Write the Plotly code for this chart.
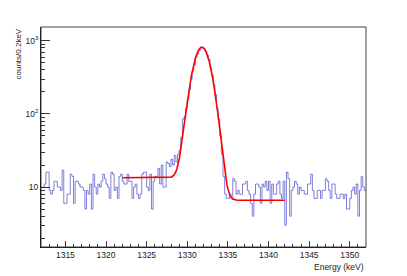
import math
import plotly.graph_objects as go

# ---- data ----
BIN_LOW = 1312.0      # keV, first bin edge
BIN_WIDTH = 0.2       # keV
COUNTS = [
    10, 10, 11, 16, 16, 9, 8, 9, 12, 12,
    10, 10, 9, 17, 6, 6, 8, 8, 15, 14,
    6, 12, 12, 11, 10, 10, 9, 5, 9, 8,
    11, 5, 15, 10, 8, 11, 10, 12, 15, 13,
    11, 10, 7, 16, 15, 9, 10, 7, 14, 15,
    12, 11, 11, 15, 12, 12, 7, 10, 11, 8,
    7, 8, 15, 16, 16, 10, 9, 15, 5, 12,
    14, 14, 18, 11, 20, 10, 10, 22, 21, 19,
    24, 20, 27, 22, 28, 32, 48, 85, 92, 120,
    160, 215, 300, 385, 470, 590, 660, 735, 810, 800,
    790, 720, 640, 560, 430, 340, 250, 185, 120, 85,
    50, 28, 14, 8, 7, 7, 8, 7, 13, 12,
    8, 9, 8, 8, 11, 11, 12, 9, 8, 6,
    4, 8, 11, 11, 10, 6, 11, 10, 12, 9,
    12, 6, 11, 8, 8, 11, 12, 8, 7, 12,
    3, 16, 13, 4, 9, 10, 12, 11, 8, 10,
    9, 9, 8, 8, 11, 11, 15, 9, 7, 7,
    9, 9, 7, 9, 9, 13, 12, 9, 7, 11,
    11, 8, 7, 7, 8, 8, 7, 8, 5, 5,
    7, 9, 10, 8, 11, 4, 9, 14, 10, 9,
]

# fit parameters (Gaussian + step background)
FIT_MU = 1331.8
FIT_SIGMA = 0.95
FIT_AMP = 810.0
FIT_BG_LEFT = 13.4
FIT_BG_RIGHT = 6.6
FIT_RANGE = (1322.0, 1342.0)
FIT_NPTS = 400

X_TICKS = [1315, 1320, 1325, 1330, 1335, 1340, 1345, 1350]
Y_TICKS = [10, 100, 1000]
Y_TICK_TEXT = ["10", "10<sup>2</sup>", "10<sup>3</sup>"]

# ---- build traces ----
edges = [BIN_LOW + BIN_WIDTH * i for i in range(len(COUNTS) + 1)]
hx = edges
hy = COUNTS + [COUNTS[-1]]


def fit_func(e):
    g = FIT_AMP * math.exp(-0.5 * ((e - FIT_MU) / FIT_SIGMA) ** 2)
    step = 0.5 * math.erfc((e - FIT_MU) / (math.sqrt(2) * FIT_SIGMA))
    return g + FIT_BG_RIGHT + (FIT_BG_LEFT - FIT_BG_RIGHT) * step


fx = [FIT_RANGE[0] + (FIT_RANGE[1] - FIT_RANGE[0]) * k / (FIT_NPTS - 1) for k in range(FIT_NPTS)]
fy = [fit_func(e) for e in fx]

fig = go.Figure()
fig.add_trace(go.Scatter(x=hx, y=hy, mode="lines", line_shape="hv",
                         line=dict(color="rgba(60,60,200,0.65)", width=1),
                         hoverinfo="skip", showlegend=False))
fig.add_trace(go.Scatter(x=fx, y=fy, mode="lines",
                         line=dict(color="rgb(255,0,0)", width=1.6),
                         hoverinfo="skip", showlegend=False))

minor_y = [m * d for d in (1, 10, 100) for m in range(2, 10)]

FONT = "Liberation Sans, Arial, Helvetica, sans-serif"

# page body has an 8px margin, so the figure is 8px smaller than the window
fig.update_layout(
    width=399, height=268,
    margin=dict(l=33, r=41, t=19, b=29),
    paper_bgcolor="white", plot_bgcolor="white",
    font=dict(family=FONT, size=8.5, color="#222"),
    xaxis=dict(
        range=[1312, 1352], showgrid=False, zeroline=False,
        showline=True, linecolor="black", linewidth=1,
        ticks="inside", ticklen=6, tickcolor="#333", tickwidth=1,
        tickvals=X_TICKS, ticktext=[str(v) for v in X_TICKS],
        tickfont=dict(size=8.5, color="#222", family=FONT),
        minor=dict(ticks="inside", ticklen=3, dtick=1, tick0=1312, tickcolor="#333"),
    ),
    yaxis=dict(
        type="log", range=[0.18, 3.19], showgrid=False, zeroline=False,
        showline=True, linecolor="black", linewidth=1,
        ticks="inside", ticklen=9, tickcolor="#333", tickwidth=1,
        tickvals=Y_TICKS, ticktext=Y_TICK_TEXT,
        tickfont=dict(size=8.5, color="#222", family=FONT),
        minor=dict(ticks="inside", ticklen=4, tickmode="array", tickvals=minor_y, tickcolor="#333"),
    ),
    shapes=[dict(type="rect", xref="paper", yref="paper", x0=0, y0=0, x1=1, y1=1,
                 line=dict(color="#444", width=1), fillcolor="rgba(0,0,0,0)", layer="above")],
    annotations=[
        dict(text="Energy (keV)", xref="paper", yref="paper", x=1, y=0,
             xanchor="right", yanchor="top", yshift=-13, showarrow=False,
             font=dict(size=8.5, color="#222", family=FONT)),
        dict(text="counts/0.2keV", xref="paper", yref="paper", x=0, y=1,
             xanchor="center", yanchor="top", xshift=-23, showarrow=False, textangle=-90,
             font=dict(size=8, color="#222", family=FONT)),
    ],
)

fig.write_html("out.html")
